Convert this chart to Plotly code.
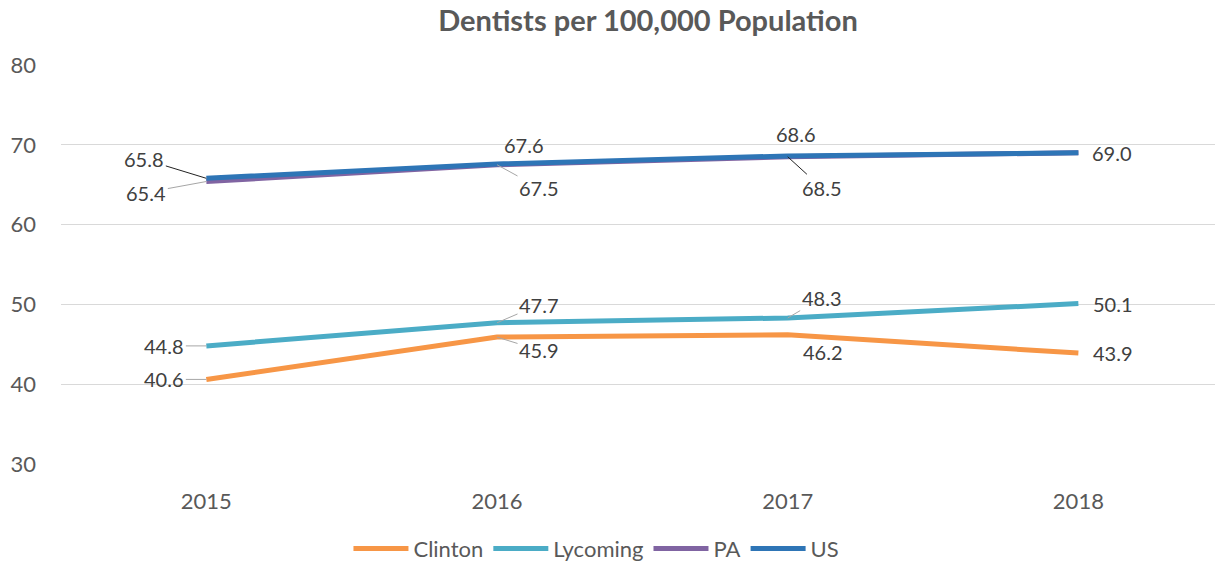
import plotly.graph_objects as go

years = ["2015", "2016", "2017", "2018"]
clinton = [40.6, 45.9, 46.2, 43.9]
lycoming = [44.8, 47.7, 48.3, 50.1]
pa = [65.4, 67.5, 68.5, 69.0]
us = [65.8, 67.6, 68.6, 69.0]
y_ticks = [30, 40, 50, 60, 70, 80]

series = [
    ("Clinton", clinton, "#F79646"),
    ("Lycoming", lycoming, "#4BACC6"),
    ("PA", pa, "#8064A2"),
    ("US", us, "#2E75B6"),
]

FONT = "Lato"
TXT = "#404040"
LBL = 20

fig = go.Figure()
xs = list(range(len(years)))
for name, vals, col in series:
    fig.add_trace(go.Scatter(x=xs, y=vals, name=name, mode="lines",
                             line=dict(color=col, width=5)))

# label placement: (series values, index, dx, dy, arrow, arrow color)
placements = [
    (us, 0, -62, -19, True, "#222222"),
    (pa, 0, -60, 11, True, "#A6A6A6"),
    (us, 1, 27, -19, False, None),
    (pa, 1, 42, 23, True, "#A6A6A6"),
    (us, 2, 8, -22, False, None),
    (pa, 2, 34, 31, True, "#222222"),
    (us, 3, 34, 0, False, None),
    (lycoming, 0, -42, 0, True, "#A6A6A6"),
    (clinton, 0, -42, 0, True, "#A6A6A6"),
    (lycoming, 1, 42, -18, True, "#A6A6A6"),
    (clinton, 1, 42, 13, True, "#A6A6A6"),
    (lycoming, 2, 34, -20, True, "#A6A6A6"),
    (clinton, 2, 35, 17, False, None),
    (lycoming, 3, 35, 0, False, None),
    (clinton, 3, 35, 0, False, None),
]
for vals, i, dx, dy, arrow, acol in placements:
    txt = f"{vals[i]:.1f}"
    if arrow:
        fig.add_annotation(x=xs[i], y=vals[i], text=txt, showarrow=True,
                           ax=dx, ay=dy, arrowhead=0, arrowwidth=1,
                           arrowcolor=acol, standoff=0,
                           font=dict(family=FONT, size=LBL, color=TXT))
    else:
        fig.add_annotation(x=xs[i], y=vals[i], text=txt, showarrow=False,
                           xshift=dx, yshift=-dy,
                           font=dict(family=FONT, size=LBL, color=TXT))

fig.update_layout(
    width=1215, height=571,
    margin=dict(l=61, r=0, t=65, b=107),
    paper_bgcolor="white", plot_bgcolor="white",
    title=dict(text="<b>Dentists per 100,000 Population</b>", x=648 / 1215, xanchor="center",
               xref="container", y=1 - 21 / 571, yanchor="middle",
               font=dict(family=FONT, size=29, color="#595959")),
    font=dict(family=FONT, size=22, color="#595959"),
    xaxis=dict(range=[-0.5, 3.47], tickmode="array", tickvals=xs, ticktext=years,
               showgrid=False, zeroline=False, showline=False,
               ticklabelstandoff=22, tickfont=dict(size=22, color="#595959")),
    yaxis=dict(range=[30, 80], tickmode="array", tickvals=y_ticks,
               showgrid=True, gridcolor="#D9D9D9", gridwidth=1, zeroline=False,
               showline=False, ticklabelstandoff=24,
               tickfont=dict(size=22, color="#595959")),
    legend=dict(orientation="h", x=0.464, xanchor="center", y=-0.265, yanchor="bottom",
                font=dict(family=FONT, size=22, color="#595959"), itemwidth=55),
    showlegend=True,
)

fig.write_html("out.html")
